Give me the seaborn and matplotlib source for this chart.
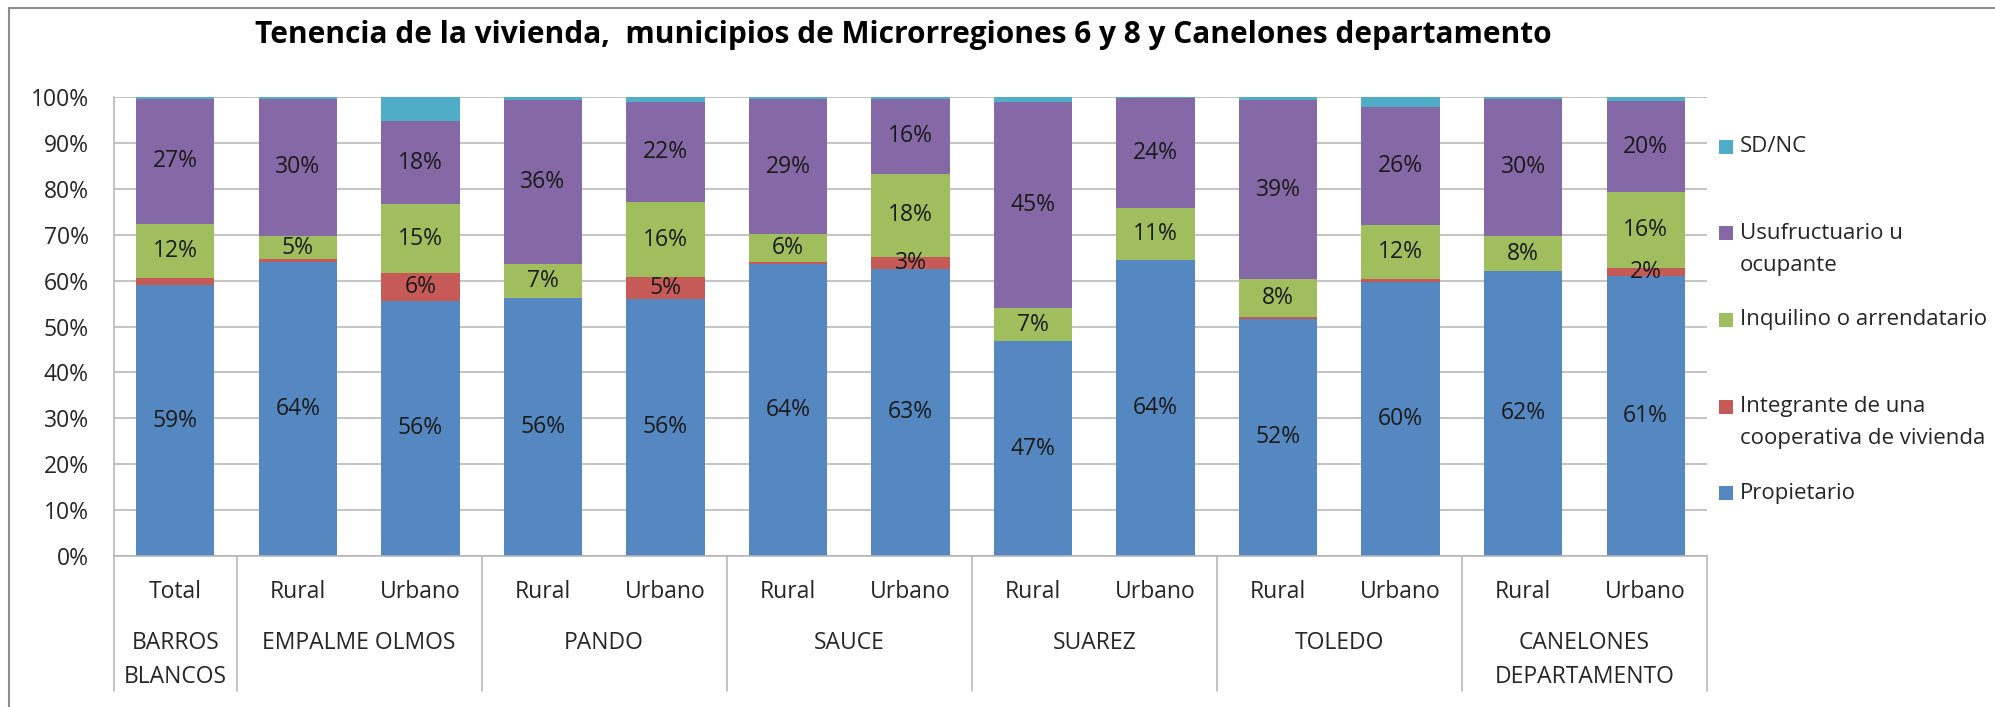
import pandas as pd
import matplotlib.pyplot as plt
import matplotlib.lines as mlines
import matplotlib.patches as mpatches
import seaborn as sns

# data (percent of households)
municipios = ['BARROS\nBLANCOS', 'EMPALME OLMOS', 'PANDO', 'SAUCE', 'SUAREZ', 'TOLEDO',
              'CANELONES\nDEPARTAMENTO']
zonas = [['Total'], ['Rural', 'Urbano'], ['Rural', 'Urbano'], ['Rural', 'Urbano'],
         ['Rural', 'Urbano'], ['Rural', 'Urbano'], ['Rural', 'Urbano']]

propietario = [59.0, 64.1, 55.6, 56.3, 56.1, 63.7, 62.6, 46.8, 64.4, 51.7, 59.8, 62.1, 61.0]
cooperativa = [1.6, 0.5, 6.0, 0.0, 4.6, 0.3, 2.6, 0.0, 0.0, 0.3, 0.5, 0.0, 1.8]
inquilino = [11.8, 5.2, 15.0, 7.3, 16.4, 6.1, 18.1, 7.2, 11.4, 8.3, 11.8, 7.6, 16.4]
usufructuario = [27.1, 29.7, 18.1, 35.8, 21.8, 29.4, 16.3, 45.0, 23.9, 39.0, 25.7, 29.9, 19.9]
sd_nc = [0.5, 0.5, 5.3, 0.5, 1.1, 0.5, 0.4, 1.0, 0.2, 0.7, 2.2, 0.5, 0.8]

series = ['Propietario', 'Integrante de una\ncooperativa de vivienda', 'Inquilino o arrendatario',
          'Usufructuario u\nocupante', 'SD/NC']
colores = ['#5588c1', '#c55a57', '#a0be5e', '#8568a6', '#50adc8']

# build table
keys = []
for m, zs in zip(municipios, zonas):
    for z in zs:
        keys.append(m + ' ' + z)
df = pd.DataFrame({'key': keys})
valores = [propietario, cooperativa, inquilino, usufructuario, sd_nc]
cum = [0.0] * len(keys)
cum_cols = []
for i, vals in enumerate(valores):
    cum = [a + b for a, b in zip(cum, vals)]
    df['cum%d' % i] = cum
    cum_cols.append('cum%d' % i)

sns.set_style('white')
plt.rcParams['font.family'] = ['Open Sans', 'DejaVu Sans']

W, H = 1995, 707
fig = plt.figure(figsize=(W / 100, H / 100), dpi=100)
ax = fig.add_axes([114 / W, 1 - 556 / H, (1707 - 114) / W, (556 - 97) / H])

gris = '#b3b3b3'

# stacked bars: draw cumulative layers from the top down
for i in range(len(series) - 1, -1, -1):
    sns.barplot(data=df, x='key', y=cum_cols[i], order=keys, color=colores[i],
                saturation=1, width=0.64, errorbar=None, linewidth=0, ax=ax)

ax.set_ylim(0, 100)
ax.set_xlim(-0.5, len(keys) - 0.5)
ax.set_yticks(range(0, 101, 10))
ax.set_yticklabels(['%d%%' % v for v in range(0, 101, 10)], fontsize=16.5, color='#262626')
ax.tick_params(axis='y', length=0, pad=18)
ax.set_xticks([])
ax.set_xlabel('')
ax.set_ylabel('')
ax.set_axisbelow(True)
ax.yaxis.grid(True, color=gris, linewidth=1.1)
for s in ['top', 'right']:
    ax.spines[s].set_visible(False)
for s in ['left', 'bottom']:
    ax.spines[s].set_color(gris)
    ax.spines[s].set_linewidth(1.1)

# data labels (SD/NC not labelled, tiny segments hidden)
for i, vals in enumerate(valores[:4]):
    for j, v in enumerate(vals):
        if v < 1.75:
            continue
        centro = df[cum_cols[i]][j] - v / 2
        ax.text(j, centro, '%d%%' % round(v), ha='center', va='center',
                fontsize=16.5, color='#1a1a1a')

# two-level category axis
tr = ax.get_xaxis_transform()
alto = 556 - 97
def ya(py):
    return (556 - py) / alto

pos = 0
ax.plot([-0.5, -0.5], [0, ya(691)], transform=tr, color=gris, lw=1.1, clip_on=False)
for m, zs in zip(municipios, zonas):
    for k, z in enumerate(zs):
        ax.text(pos + k, ya(592), z, transform=tr, ha='center', va='center',
                fontsize=16.5, color='#262626')
    centro = pos + (len(zs) - 1) / 2
    for k, linea in enumerate(m.split('\n')):
        ax.text(centro, ya(643 + 34 * k), linea, transform=tr, ha='center', va='center',
                fontsize=16.5, color='#262626')
    pos += len(zs)
    ax.plot([pos - 0.5, pos - 0.5], [0, ya(691)], transform=tr, color=gris, lw=1.1,
            clip_on=False)

# legend on the right, Excel-style (top entry = last series)
for n, i in enumerate(range(len(series) - 1, -1, -1)):
    yc = 147 + 86.5 * n
    fig.add_artist(mpatches.Rectangle((1719 / W, 1 - (yc + 7) / H), 14 / W, 14 / H,
                                      transform=fig.transFigure, color=colores[i], lw=0))
    for k, linea in enumerate(series[i].split('\n')):
        fig.text(1740 / W, 1 - (yc + 32 * k) / H, linea, ha='left', va='center',
                 fontsize=16, color='#262626')

fig.text(903 / W, 1 - 35 / H,
         'Tenencia de la vivienda,  municipios de Microrregiones 6 y 8 y Canelones departamento',
         ha='center', va='center', fontsize=21.5, fontweight='bold', color='black')

# chart frame (only top and left edges visible in the original)
fig.add_artist(mlines.Line2D([9 / W, 1], [1 - 8 / H, 1 - 8 / H], color='#8c8c8c', lw=1.5))
fig.add_artist(mlines.Line2D([9 / W, 9 / W], [0, 1 - 8 / H], color='#8c8c8c', lw=1.5))

fig.savefig('out.png', dpi=100)
